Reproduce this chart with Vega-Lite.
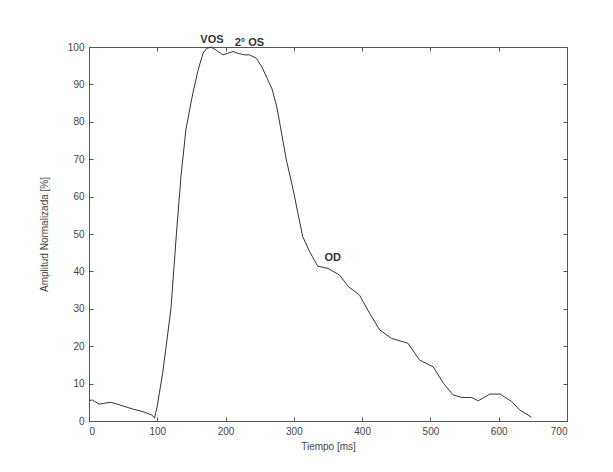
{
  "$schema": "https://vega.github.io/schema/vega-lite/v6.json",
  "autosize": {"type": "none"},
  "padding": {"left": 89, "top": 47, "right": 46, "bottom": 51},
  "width": 478,
  "height": 374,
  "background": "white",
  "config": {
    "font": "Liberation Sans",
    "view": {"stroke": "#555", "strokeWidth": 1},
    "axis": {
      "grid": false,
      "domain": false,
      "ticks": true,
      "tickSize": -4,
      "tickColor": "#555",
      "labelFont": "Liberation Sans",
      "labelFontSize": 10,
      "labelColor": "#444",
      "titleFont": "Liberation Sans",
      "titleFontSize": 10,
      "titleFontWeight": "normal",
      "titleColor": "#444"
    }
  },
  "datasets": {
    "curve": [
      {"t": 0, "v": 5.5}, {"t": 5, "v": 5.6}, {"t": 15, "v": 4.5}, {"t": 25, "v": 4.8},
      {"t": 32, "v": 5.0}, {"t": 40, "v": 4.6}, {"t": 50, "v": 4.0}, {"t": 64, "v": 3.2},
      {"t": 79, "v": 2.5}, {"t": 92, "v": 1.6}, {"t": 96, "v": 0.8}, {"t": 100, "v": 4},
      {"t": 103, "v": 7.4}, {"t": 108, "v": 13}, {"t": 113, "v": 20}, {"t": 120, "v": 30},
      {"t": 128, "v": 50}, {"t": 135, "v": 66}, {"t": 142, "v": 78}, {"t": 152, "v": 87.6},
      {"t": 160, "v": 94}, {"t": 167, "v": 98.3}, {"t": 172, "v": 99.6}, {"t": 179, "v": 100},
      {"t": 186, "v": 99.2}, {"t": 196, "v": 97.9}, {"t": 203, "v": 98.3}, {"t": 211, "v": 98.8},
      {"t": 218, "v": 98.3}, {"t": 228, "v": 97.9}, {"t": 235, "v": 97.9}, {"t": 245, "v": 97},
      {"t": 253, "v": 94.7}, {"t": 260, "v": 92}, {"t": 268, "v": 88.8}, {"t": 275, "v": 84},
      {"t": 280, "v": 79}, {"t": 289, "v": 69.8}, {"t": 299, "v": 61.8}, {"t": 306, "v": 55.5},
      {"t": 313, "v": 49.3}, {"t": 323, "v": 45.3}, {"t": 335, "v": 41.4}, {"t": 350, "v": 40.8},
      {"t": 367, "v": 39}, {"t": 380, "v": 35.9}, {"t": 396, "v": 33.7}, {"t": 411, "v": 28.8},
      {"t": 426, "v": 24.3}, {"t": 443, "v": 22.1}, {"t": 467, "v": 20.8}, {"t": 484, "v": 16.3},
      {"t": 504, "v": 14.5}, {"t": 519, "v": 10.1}, {"t": 533, "v": 7}, {"t": 546, "v": 6.3},
      {"t": 560, "v": 6.3}, {"t": 570, "v": 5.4}, {"t": 587, "v": 7.2}, {"t": 602, "v": 7.2},
      {"t": 619, "v": 5.2}, {"t": 631, "v": 2.9}, {"t": 643, "v": 1.6}, {"t": 648, "v": 1.0}
    ],
    "labels": [
      {"t": 180, "v": 102, "label": "VOS"},
      {"t": 235, "v": 101, "label": "2° OS"},
      {"t": 357, "v": 43.6, "label": "OD"}
    ]
  },
  "layer": [
    {
      "data": {"name": "curve"},
      "mark": {"type": "line", "color": "#333", "strokeWidth": 1, "interpolate": "linear"},
      "encoding": {
        "x": {"field": "t", "type": "quantitative", "scale": {"domain": [0, 700], "nice": false},
              "axis": {"orient": "bottom", "values": [0,100,200,300,400,500,600,700], "title": "Tiempo [ms]", "labelPadding": 9, "titlePadding": 5}},
        "y": {"field": "v", "type": "quantitative", "scale": {"domain": [0, 100], "nice": false},
              "axis": {"orient": "left", "values": [0,10,20,30,40,50,60,70,80,90,100], "title": "Amplitud Normalizada [%]", "labelPadding": 9, "titlePadding": 18}}
      }
    },
    {
      "data": {"name": "labels"},
      "mark": {"type": "text", "font": "Liberation Sans", "fontSize": 11, "fontWeight": "bold", "color": "#333", "baseline": "middle", "align": "center"},
      "encoding": {
        "x": {"field": "t", "type": "quantitative",
              "axis": {"orient": "top", "values": [0,100,200,300,400,500,600,700], "labels": false, "title": null}},
        "y": {"field": "v", "type": "quantitative",
              "axis": {"orient": "right", "values": [0,10,20,30,40,50,60,70,80,90,100], "labels": false, "title": null}},
        "text": {"field": "label"}
      }
    }
  ],
  "resolve": {"axis": {"x": "independent", "y": "independent"}}
}
